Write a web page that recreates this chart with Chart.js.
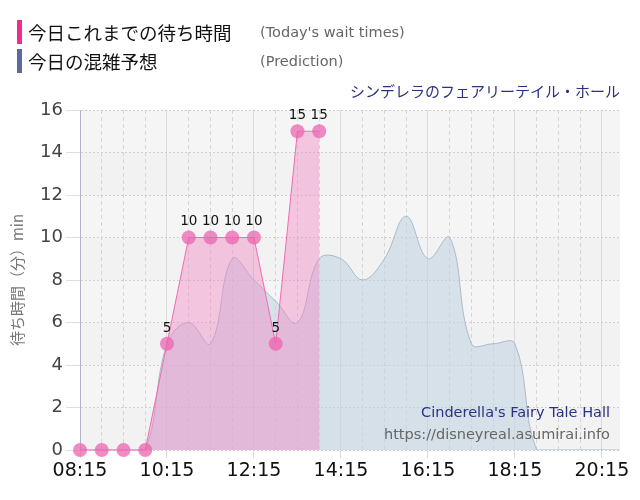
<!DOCTYPE html>
<html>
<head>
<meta charset="utf-8">
<script src="https://cdn.jsdelivr.net/npm/chart.js@4.4.1/dist/chart.umd.min.js"></script>
<style>
  body { margin: 0; background: #fff; }
  #wrap { position: relative; width: 640px; height: 500px; overflow: hidden; }
  #chart { position: absolute; left: 0; top: 0; }
  .bar { position: absolute; left: 17px; width: 5px; height: 24px; }
  .jp { position: absolute; left: 28px; font-family: "Noto Sans CJK JP", sans-serif; font-size: 18.5px; color: #111; line-height: 24px; }
  .en { position: absolute; left: 260px; font-family: "DejaVu Sans", sans-serif; font-size: 14.5px; color: #666; line-height: 24px; }
  .title { position: absolute; right: 20px; top: 80px; font-family: "Noto Sans CJK JP", sans-serif; font-size: 15px; color: #2b3183; }
  .wm1 { position: absolute; right: 30px; top: 404px; font-family: "DejaVu Sans", sans-serif; font-size: 14.5px; color: #2b3183; }
  .wm2 { position: absolute; right: 30px; top: 426px; font-family: "DejaVu Sans", sans-serif; font-size: 14.5px; color: #666; }
</style>
</head>
<body>
<div id="wrap">
  <canvas id="chart" width="640" height="500"></canvas>
  <div class="bar" style="top:20px;background:#ee2d93"></div>
  <div class="jp" style="top:20px">今日これまでの待ち時間</div>
  <div class="en" style="top:20px">(Today's wait times)</div>
  <div class="bar" style="top:49px;background:#5b6a9a"></div>
  <div class="jp" style="top:49px">今日の混雑予想</div>
  <div class="en" style="top:49px">(Prediction)</div>
  <div class="title">シンデレラのフェアリーテイル・ホール</div>
  <div class="wm1">Cinderella's Fairy Tale Hall</div>
  <div class="wm2">https://disneyreal.asumirai.info</div>
</div>
<script>
// half-hour slots for the whole day
const times = ['08:15','08:45','09:15','09:45','10:15','10:45','11:15','11:45','12:15','12:45',
  '13:15','13:45','14:15','14:45','15:15','15:45','16:15','16:45','17:15','17:45',
  '18:15','18:45','19:15','19:45','20:15','20:45'];
// today's actual wait times (up to 13:45)
const waitTimes = [0, 0, 0, 0, 5, 10, 10, 10, 10, 5, 15, 15];
// predicted wait times
const prediction = [0, 0, 0, 0, 5, 6, 5, 9, 8, 7, 6, 9, 9, 8, 9, 11, 9, 10, 5, 5, 5, 0, 0, 0, 0, 0];
const xTickLabels = ['08:15','10:15','12:15','14:15','16:15','18:15','20:15'];
const yTicks = [0, 2, 4, 6, 8, 10, 12, 14, 16];
const xStart = '08:15';
const xEnd = '20:40';

function toMin(t) {
  const [h, m] = t.split(':').map(Number);
  return h * 60 + m;
}
function fmt(v) {
  const h = Math.floor(v / 60), m = v % 60;
  return String(h).padStart(2, '0') + ':' + String(m).padStart(2, '0');
}
function isMajor(v) {
  return xTickLabels.includes(fmt(v));
}

// plot background with faint alternating bands
const bgPlugin = {
  id: 'bg',
  beforeDraw(chart) {
    const { ctx, chartArea: a, scales: { y } } = chart;
    ctx.save();
    for (let i = 0; i < yTicks.length - 1; i++) {
      const top = y.getPixelForValue(yTicks[i + 1]);
      const bot = y.getPixelForValue(yTicks[i]);
      ctx.fillStyle = i % 2 === 0 ? '#f2f2f2' : '#f5f5f5';
      ctx.fillRect(a.left, top, a.width, bot - top);
    }
    ctx.restore();
  }
};

// numbers above non-zero wait time points
const labelPlugin = {
  id: 'valueLabels',
  afterDatasetsDraw(chart) {
    const { ctx } = chart;
    const meta = chart.getDatasetMeta(0);
    ctx.save();
    ctx.font = '13.5px "DejaVu Sans", sans-serif';
    ctx.fillStyle = '#111';
    ctx.textAlign = 'center';
    ctx.textBaseline = 'bottom';
    meta.data.forEach((pt, i) => {
      if (waitTimes[i] > 0) ctx.fillText(String(waitTimes[i]), pt.x, pt.y - 9);
    });
    ctx.restore();
  }
};

new Chart(document.getElementById('chart'), {
  type: 'line',
  data: {
    datasets: [
      {
        label: '今日これまでの待ち時間',
        data: waitTimes.map((v, i) => ({ x: toMin(times[i]), y: v })),
        borderColor: '#ef6db3',
        borderWidth: 1,
        backgroundColor: 'rgba(242,130,192,0.42)',
        fill: 'origin',
        tension: 0,
        pointRadius: 7,
        pointBorderWidth: 0,
        pointBackgroundColor: 'rgba(236,100,175,0.75)',
        clip: false
      },
      {
        label: '今日の混雑予想',
        data: prediction.map((v, i) => ({ x: toMin(times[i]), y: v })),
        borderColor: 'rgba(165,182,198,0.9)',
        borderWidth: 1,
        backgroundColor: 'rgba(195,212,226,0.6)',
        fill: 'origin',
        tension: 0.4,
        pointRadius: 0
      }
    ]
  },
  options: {
    responsive: false,
    animation: false,
    layout: { padding: { top: 110, right: 20, left: 0, bottom: 0 } },
    plugins: { legend: { display: false }, tooltip: { enabled: false } },
    scales: {
      x: {
        type: 'linear',
        min: toMin(xStart),
        max: toMin(xEnd),
        afterBuildTicks: (axis) => {
          axis.ticks = times.map(toMin)
            .filter(v => v >= axis.min && v <= axis.max)
            .map(v => ({ value: v }));
        },
        afterFit: (s) => { s.height = 50; },
        ticks: {
          autoSkip: false,
          maxRotation: 0,
          padding: 2,
          color: '#111',
          font: { family: 'DejaVu Sans', size: 19 },
          callback: (v) => isMajor(v) ? fmt(v) : ''
        },
        grid: {
          color: (c) => c.tick && isMajor(c.tick.value) ? '#dadada' : '#d6d6d6',
          tickColor: (c) => c.tick && isMajor(c.tick.value) ? '#dadada' : 'rgba(0,0,0,0)',
          tickLength: 8
        },
        border: {
          display: false,
          dash: (c) => c.tick && isMajor(c.tick.value) ? [] : [4, 3]
        }
      },
      y: {
        min: 0,
        max: 16,
        afterBuildTicks: (axis) => { axis.ticks = yTicks.map(v => ({ value: v })); },
        afterFit: (s) => { s.width = 80; },
        ticks: {
          padding: 3,
          color: '#444',
          font: { family: 'DejaVu Sans', size: 18 }
        },
        grid: { color: '#cfcfcf', tickColor: '#dedede', tickLength: 14 },
        border: { display: true, color: '#b8b2c8', dash: [2, 2] },
        title: {
          display: true,
          text: '待ち時間（分）min',
          color: '#777',
          font: { family: 'Noto Sans CJK JP', size: 15 },
          padding: { top: 8, bottom: 0 }
        }
      }
    }
  },
  plugins: [bgPlugin, labelPlugin]
});
</script>
</body>
</html>
